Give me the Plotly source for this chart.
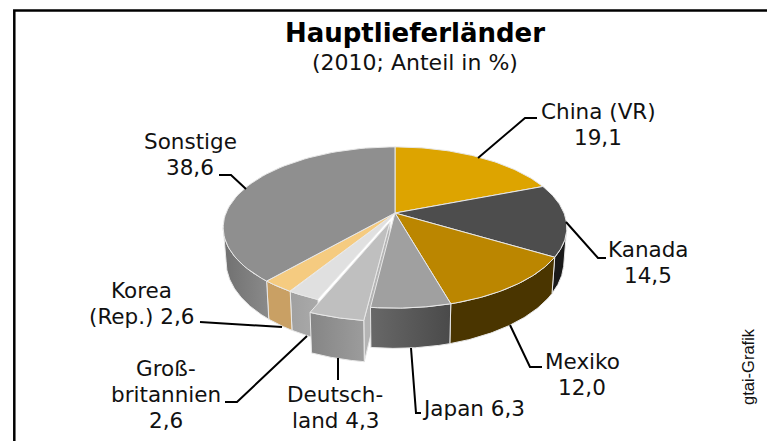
import numpy as np
import plotly.graph_objects as go

# ---- data ----
countries = ["China (VR)", "Kanada", "Mexiko", "Japan", "Deutschland", "Großbritannien", "Korea (Rep.)", "Sonstige"]
shares = [19.1, 14.5, 12.0, 6.3, 4.3, 2.6, 2.6, 38.6]
label_texts = ["China (VR)<br>19,1", "Kanada<br>14,5", "Mexiko<br>12,0", "Japan 6,3",
               "Deutsch-<br>land 4,3", "Groß-<br>britannien<br>2,6", "Korea<br>(Rep.) 2,6", "Sonstige<br>38,6"]
top_colors = ["#dda400", "#4d4d4d", "#bb8600", "#a0a0a0", "#bfbfbf", "#e0e0e0", "#f5cb80", "#8f8f8f"]
wall_left = ["#dda400", "#1a1a1a", "#4a3500", "#686868", "#858585", "#a0a0a0", "#c9a064", "#707070"]
wall_right = ["#dda400", "#1a1a1a", "#4a3500", "#4a4a4a", "#9c9c9c", "#aaaaaa", "#c9a064", "#8a8a8a"]

# ---- layout of the drawing (pixel space) ----
W, H = 767, 441
CX, CY, A, B, K, D, SHRINK = 395, 213, 169, 78, 0.18, 33, 0.017
EXPLODED = 4
EXPLODE_BY = 0.115
EDGE = "#e8e8e8"
LINE_STEP = 26

# centre of the text block of each label
label_pos = [(598, 124), (648, 262), (582, 374), (473, 408), (335, 407), (166, 394), (141, 303), (190, 154)]
leaders = [
    [(478, 158), (525, 118), (537, 118)],
    [(566, 222), (598, 258), (606, 258)],
    [(510, 325), (530, 367), (542, 367)],
    [(411, 348), (416, 413), (421, 413)],
    [(338, 358), (338, 380)],
    [(307, 336), (237, 402), (225, 402)],
    [(200, 322), (282, 327)],
    [(246, 189), (231, 175), (219, 175)],
]


def proj(X, Y, depth=0.0):
    X, Y = np.asarray(X, float), np.asarray(Y, float)
    w = 1 + K * Y
    return CX + A * X / w * (1 - SHRINK * depth), CY - B * Y / w + D * depth / w


total = sum(shares)
edges = np.concatenate([[0], np.cumsum(shares)]) / total * 360.0
VIS_L, VIS_R = np.degrees(np.arccos(-K)), 360 - np.degrees(np.arccos(-K))


def offset(i):
    if i != EXPLODED:
        return 0.0, 0.0
    mid = np.radians((edges[i] + edges[i + 1]) / 2)
    return EXPLODE_BY * np.sin(mid), EXPLODE_BY * np.cos(mid)


def arc(i, a0=None, a1=None):
    a0 = edges[i] if a0 is None else a0
    a1 = edges[i + 1] if a1 is None else a1
    t = np.radians(np.linspace(a0, a1, 60))
    ox, oy = offset(i)
    return np.sin(t) + ox, np.cos(t) + oy


fig = go.Figure()


def poly(xs, ys, color=None, grad=None):
    kw = dict(fillgradient=dict(type="horizontal", colorscale=[[0, grad[0]], [1, grad[1]]])) if grad else dict(fillcolor=color)
    fig.add_trace(go.Scatter(x=list(xs) + [xs[0]], y=list(ys) + [ys[0]], mode="lines", fill="toself",
                             line=dict(color=EDGE, width=1), hoverinfo="skip", showlegend=False, **kw))


def wall(i):
    a0, a1 = max(edges[i], VIS_L), min(edges[i + 1], VIS_R)
    if a1 <= a0:
        return
    X, Y = arc(i, a0, a1)
    xt, yt = proj(X, Y)
    xb, yb = proj(X, Y, 1)
    poly(np.r_[xt, xb[::-1]], np.r_[yt, yb[::-1]], grad=(wall_left[i], wall_right[i]))


def top(i):
    X, Y = arc(i)
    ox, oy = offset(i)
    x, y = proj(np.r_[ox, X], np.r_[oy, Y])
    poly(x, y, color=top_colors[i])


def cut_face(i, angle):
    ox, oy = offset(i)
    t = np.radians(angle)
    Xo, Yo = np.sin(t) + ox, np.cos(t) + oy
    x1, y1 = proj([Xo, ox], [Yo, oy])
    x2, y2 = proj([ox, Xo], [oy, Yo], 1)
    poly(np.r_[x1, x2], np.r_[y1, y2], color="#b4b4b4")


others = [i for i in range(len(shares)) if i != EXPLODED]
for i in others:
    if i != 3:
        wall(i)
cut_face(EXPLODED, edges[EXPLODED])
wall(3)
for i in others:
    top(i)
wall(EXPLODED)
top(EXPLODED)

# leader lines
for path in leaders:
    fig.add_trace(go.Scatter(x=[p[0] for p in path], y=[p[1] for p in path], mode="lines",
                             line=dict(color="#000000", width=2), hoverinfo="skip", showlegend=False))

FONT = "DejaVu Sans"
annots = []
for (px, py), t in zip(label_pos, label_texts):
    rows = t.split("<br>")
    for n, row in enumerate(rows):
        annots.append(dict(x=px, y=py + (n - (len(rows) - 1) / 2) * LINE_STEP, text=row, showarrow=False,
                           xanchor="center", yanchor="middle",
                           font=dict(family=FONT, size=21.5, color="#111111")))
annots.append(dict(x=415, y=62, text="(2010; Anteil in %)", showarrow=False, xanchor="center", yanchor="middle",
                   font=dict(family=FONT, size=22, color="#111111")))
annots.append(dict(x=748, y=367, text="gtai-Grafik", showarrow=False, textangle=-90, xanchor="center", yanchor="middle",
                   font=dict(family="Liberation Sans", size=16.5, color="#111111")))

fig.update_layout(
    width=W, height=H, margin=dict(l=0, r=0, t=0, b=0), paper_bgcolor="white", plot_bgcolor="white",
    title=dict(text="<b>Hauptlieferländer</b>", x=415 / W, y=1 - 33 / H, xanchor="center", yanchor="middle",
               font=dict(family=FONT, size=26, color="#000000")),
    xaxis=dict(range=[0, W], visible=False, fixedrange=True),
    yaxis=dict(range=[H, 0], visible=False, fixedrange=True),
    annotations=annots,
    shapes=[dict(type="path", path=f"M 14.3 {H} L 14.3 10.5 L {W} 10.5", xref="x", yref="y",
                 line=dict(color="#000000", width=2.5))],
)
fig.write_html("out.html", config={"displayModeBar": False},
               post_script="document.body.style.margin='0';document.documentElement.style.overflow='hidden';")
